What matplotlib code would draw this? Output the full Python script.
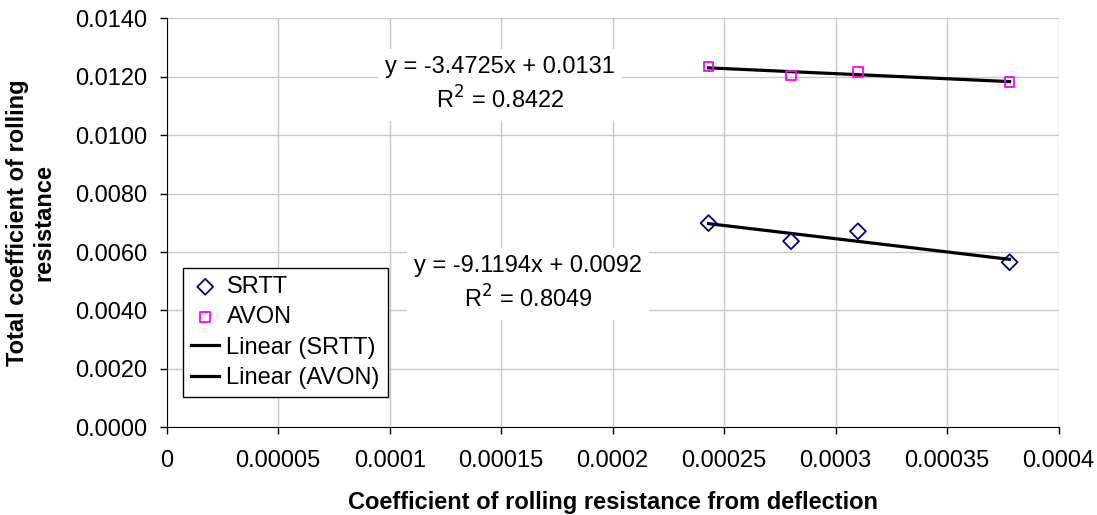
import numpy as np
import matplotlib.pyplot as plt
from matplotlib.ticker import FixedLocator

plt.rcParams['font.family'] = ['Liberation Sans', 'DejaVu Sans']

# Datos
crr_x = [0.000243, 0.000280, 0.000310, 0.000378]
srtt_y = [0.00699, 0.00637, 0.00671, 0.00565]
avon_y = [0.01235, 0.01204, 0.01217, 0.01182]

x_ticks = [0, 0.00005, 0.0001, 0.00015, 0.0002, 0.00025, 0.0003, 0.00035, 0.0004]
x_tick_labels = ["0", "0.00005", "0.0001", "0.00015", "0.0002",
                 "0.00025", "0.0003", "0.00035", "0.0004"]
y_ticks = [0.0, 0.002, 0.004, 0.006, 0.008, 0.010, 0.012, 0.014]

srtt_eq = "y = -9.1194x + 0.0092\nR$^2$ = 0.8049"
avon_eq = "y = -3.4725x + 0.0131\nR$^2$ = 0.8422"

FS = 17

fig = plt.figure(figsize=(10.97, 5.15), dpi=100)
ax = fig.add_axes([0.152, 0.1703, 0.813, 0.7942])

ax.scatter(crr_x, srtt_y, marker="D", s=65, facecolors="none",
           edgecolors="#000080", linewidths=1.3, label="SRTT", zorder=3)
ax.scatter(crr_x, avon_y, marker="s", s=48, facecolors="none",
           edgecolors="#FF00FF", linewidths=1.3, label="AVON", zorder=3)

# lineas de tendencia (ajuste lineal)
xx = np.array([min(crr_x), max(crr_x)])
p1 = np.polyfit(crr_x, srtt_y, 1)
p2 = np.polyfit(crr_x, avon_y, 1)
ax.plot(xx, np.polyval(p1, xx), color="black", lw=2.3, label="Linear (SRTT)", zorder=2)
ax.plot(xx, np.polyval(p2, xx), color="black", lw=2.3, label="Linear (AVON)", zorder=2)

box = dict(facecolor="white", edgecolor="none", pad=5)
ax.text(0.0001495, 0.01172, avon_eq, ha="center", va="center", fontsize=FS,
        linespacing=1.4, bbox=box, zorder=4)
ax.text(0.000162, 0.00491, srtt_eq, ha="center", va="center", fontsize=FS,
        linespacing=1.4, bbox=box, zorder=4)

ax.set_xlim(0, 0.0004)
ax.set_ylim(0, 0.014)
ax.xaxis.set_major_locator(FixedLocator(x_ticks))
ax.set_xticklabels(x_tick_labels)
ax.set_yticks(y_ticks)
ax.set_yticklabels([f"{v:.4f}" for v in y_ticks])
ax.tick_params(labelsize=FS, direction="out", length=5, width=1)
ax.tick_params(axis="x", pad=11)
ax.tick_params(axis="y", pad=9)
ax.grid(True, color="#c8c8c8", lw=1)
ax.set_axisbelow(True)
for s in ["top", "right"]:
    ax.spines[s].set_visible(False)

ax.set_xlabel("Coefficient of rolling resistance from deflection",
              fontsize=FS, fontweight="bold", labelpad=14)
ax.set_ylabel("Total coefficient of rolling\nresistance",
              fontsize=FS, fontweight="bold", labelpad=14)

leg = ax.legend(loc="lower left", bbox_to_anchor=(0.018, 0.074), borderaxespad=0,
                fontsize=FS, fancybox=False, edgecolor="black", framealpha=1,
                handlelength=1.2, handletextpad=0.3, labelspacing=0.35,
                borderpad=0.35)
leg.get_frame().set_linewidth(1)

plt.savefig("out.png")
